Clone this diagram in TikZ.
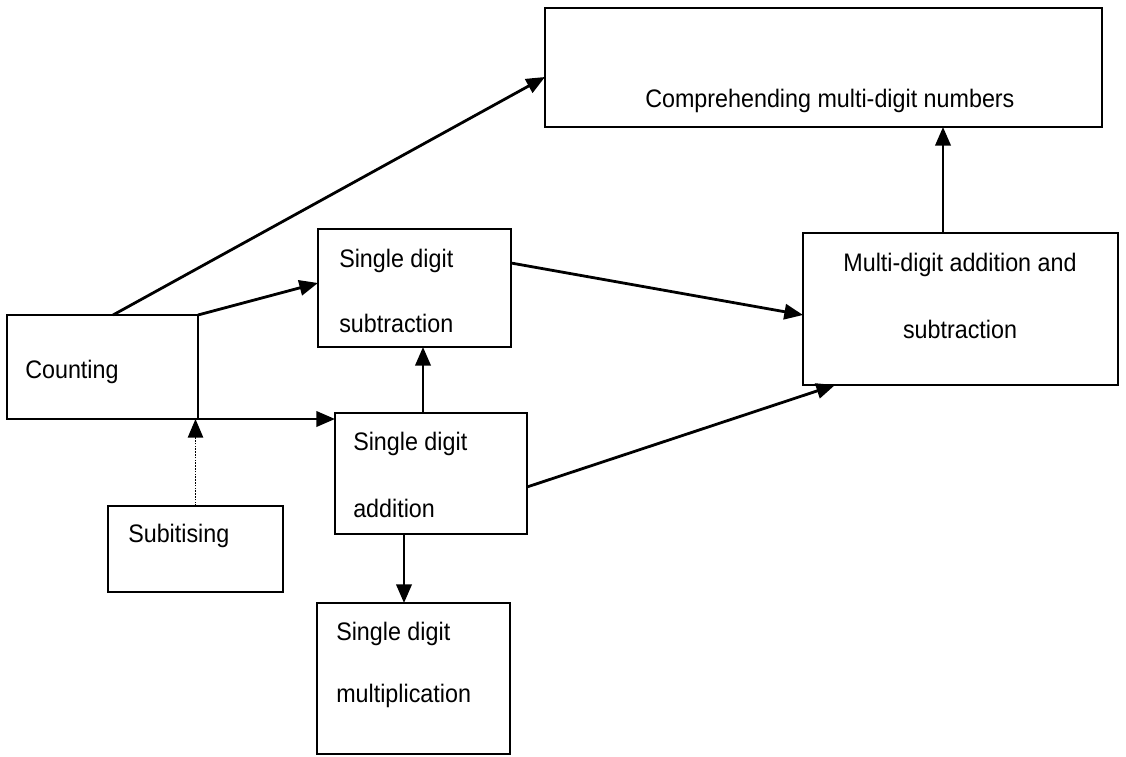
\documentclass[tikz,border=0pt]{standalone}
\usepackage{fontspec}
\usepackage{graphicx}
\setmainfont{Liberation Sans}
\usetikzlibrary{arrows.meta,calc}
\newcommand{\dtxt}[1]{\scalebox{0.92}[1]{\fontsize{19pt}{23pt}\selectfont #1}}
\tikzset{
  box/.style={draw, line width=1.6pt, inner sep=0pt, outer sep=0pt},
  lbl/.style={anchor=base west, inner sep=0pt},
  clbl/.style={anchor=base, inner sep=0pt},
  arr/.style={line width=2.1pt, -{Triangle[length=14pt,width=11.5pt]}},
  dotarr/.style={line width=1.2pt, dash pattern=on 1.2pt off 0.9pt, -{Triangle[length=14pt,width=11.5pt]}}
}
\begin{document}
\begin{tikzpicture}[x=0.75pt,y=-0.75pt]
\useasboundingbox[fill=white] (0,0) rectangle (1126,756);
% boxes (centres and sizes in pixels)
\node[box, minimum width=557*0.75pt, minimum height=119*0.75pt] (cmp) at (823.5,67.5) {};
\node[box, minimum width=315*0.75pt, minimum height=152*0.75pt] (mlt) at (960.5,309) {};
\node[box, minimum width=191*0.75pt, minimum height=104*0.75pt] (cnt) at (102.5,367) {};
\node[box, minimum width=193*0.75pt, minimum height=118*0.75pt] (sub) at (414.5,288) {};
\node[box, minimum width=192*0.75pt, minimum height=121*0.75pt] (add) at (431,473.5) {};
\node[box, minimum width=175*0.75pt, minimum height=86*0.75pt] (sbt) at (195.5,549) {};
\node[box, minimum width=193*0.75pt, minimum height=151*0.75pt] (mpl) at (413.5,678.5) {};
% texts
\node[lbl] (tcmp) at (645,108) {\dtxt{Comprehending multi-digit numbers}};
\node[clbl] (tmlt1) at (960,271) {\dtxt{Multi-digit addition and}};
\node[clbl] (tmlt2) at (960,338) {\dtxt{subtraction}};
\node[lbl] (tcnt) at (25,378) {\dtxt{Counting}};
\node[lbl] (tsub1) at (339,267) {\dtxt{Single digit}};
\node[lbl] (tsub2) at (339,332) {\dtxt{subtraction}};
\node[lbl] (tadd1) at (353,450) {\dtxt{Single digit}};
\node[lbl] (tadd2) at (353,517) {\dtxt{addition}};
\node[lbl] (tsbt) at (128,542) {\dtxt{Subitising}};
\node[lbl] (tmpl1) at (336,640) {\dtxt{Single digit}};
\node[lbl] (tmpl2) at (336,702) {\dtxt{multiplication}};
% connectors
\draw[arr] ($(cnt.north)+(10.5,0)$) -- ($(cmp.west)+(0,9.5)$);
\draw[arr] (cnt.north east) -- ($(sub.west)+(0,-5)$);
\draw[line width=1.6pt] (cnt.north east) -- (cnt.south east);
\draw[arr] (cnt.south east) -- (cnt.south east -| add.west);
\draw[dotarr] (sbt.north) -- (sbt.north |- cnt.south);
\draw[arr] ($(add.north)+(-8,0)$) -- ($(sub.south)+(8.5,0)$);
\draw[arr] ($(sub.east)+(0,-25)$) -- ($(mlt.west)+(0,6)$);
\draw[arr] ($(add.east)+(0,13.5)$) -- ($(mlt.south west)+(32,0)$);
\draw[arr] ($(add.south)+(-27,0)$) -- ($(mpl.north)+(-9.5,0)$);
\draw[arr] ($(mlt.north)+(-17.5,0)$) -- ($(cmp.south)+(119.5,0)$);
\end{tikzpicture}
\end{document}
